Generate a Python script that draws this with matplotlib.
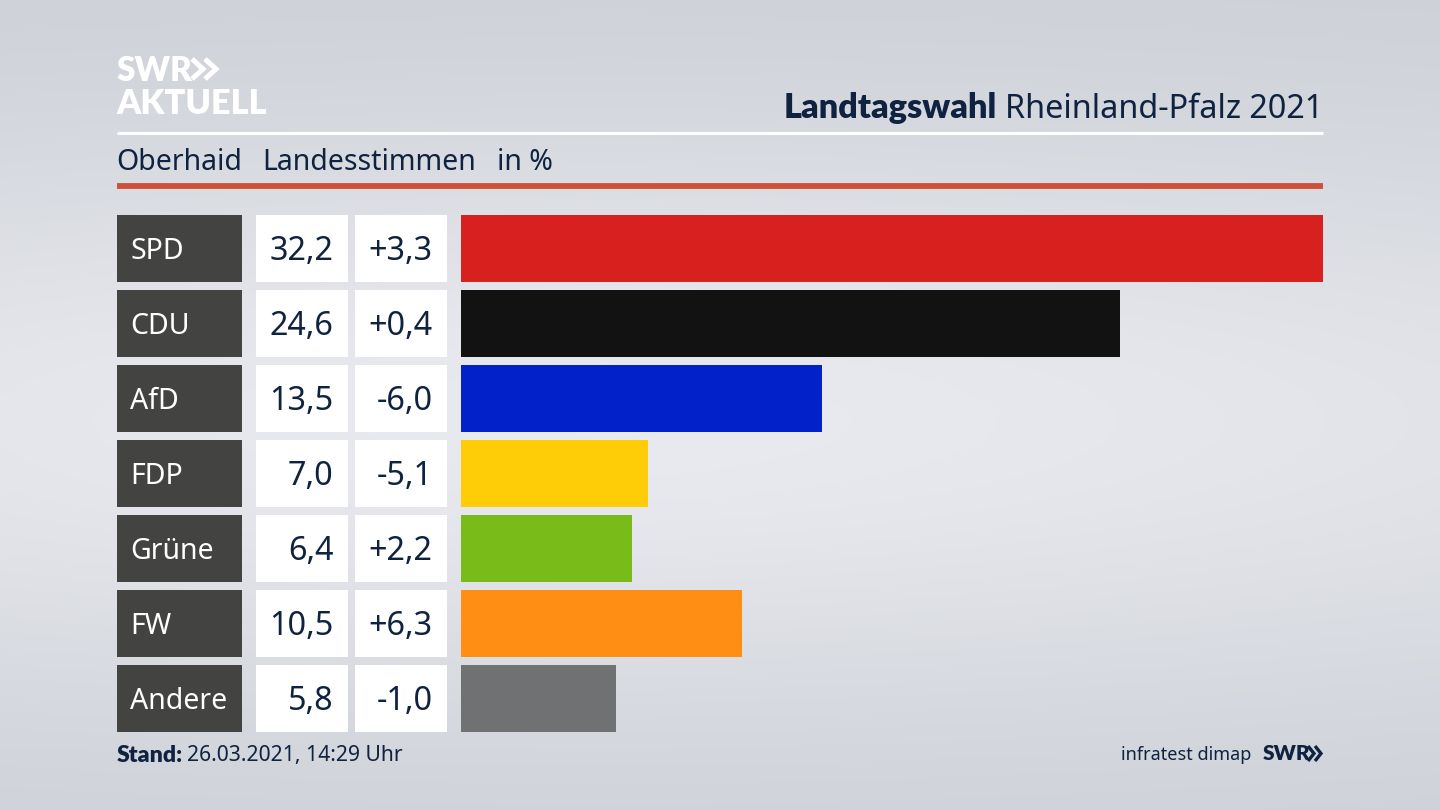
import numpy as np
import matplotlib
matplotlib.use("Agg")
import matplotlib.pyplot as plt
from matplotlib.colors import LinearSegmentedColormap

parties = ["SPD", "CDU", "AfD", "FDP", "Grüne", "FW", "Andere"]
shares = [32.2, 24.6, 13.5, 7.0, 6.4, 10.5, 5.8]
share_labels = ["32,2", "24,6", "13,5", "7,0", "6,4", "10,5", "5,8"]
change_labels = ["+3,3", "+0,4", "-6,0", "-5,1", "+2,2", "+6,3", "-1,0"]
colors = ["#d8201f", "#121212", "#0221c8", "#ffcd07", "#79bc19", "#ff8e14", "#707173"]

NAVY = "#0f2240"
FONT = "Noto Sans"
BOLD = "Lato"
plt.rcParams["font.family"] = [FONT, "DejaVu Sans"]

W, H = 1440, 810
fig = plt.figure(figsize=(W / 100, H / 100), dpi=100)

def axes_px(x0, y0, x1, y1, **kw):
    return fig.add_axes([x0 / W, 1 - y1 / H, (x1 - x0) / W, (y1 - y0) / H], **kw)

# background: pale band through the middle, darker at top and bottom
bg = axes_px(0, 0, W, H)
yy, xx = np.mgrid[0:1:162j, 0:1:288j]
field = np.exp(-((yy - 0.52) / 0.36) ** 2) * (1 - 0.55 * np.abs(xx - 0.42) ** 1.5)
cmap = LinearSegmentedColormap.from_list("bg", ["#ccd0d6", "#e9eaef"])
bg.imshow(field, extent=(0, W, H, 0), aspect="auto", cmap=cmap, vmin=0, vmax=1,
          interpolation="bicubic")
bg.set_xlim(0, W)
bg.set_ylim(H, 0)
bg.axis("off")

# header
bg.text(117, 71, "SWR", color="white", fontsize=24, fontweight="heavy", family=BOLD, va="center", ha="left")
bg.text(116, 104, "AKTUELL", color="white", fontsize=24.7, fontweight="heavy", family=BOLD, va="center", ha="left")
for dx in (0, 13):
    bg.plot([192 + dx, 203 + dx, 192 + dx], [59, 69, 79], color="white", lw=3.6,
            solid_joinstyle="miter", solid_capstyle="butt")

bg.text(1323, 109, "Rheinland-Pfalz 2021", color=NAVY, fontsize=23.3, va="center", ha="right")
bg.text(997, 108, "Landtagswahl", color=NAVY, fontsize=24.7, fontweight="heavy", family=BOLD, va="center", ha="right")
bg.plot([117, 1323], [133, 133], color="white", lw=2.2, solid_capstyle="butt")
bg.plot([117, 1323], [185.5, 185.5], color="#cf5039", lw=4.2, solid_capstyle="butt")
bg.text(116, 162, "Oberhaid", color=NAVY, fontsize=20.5, va="center", ha="left")
bg.text(262, 162, "Landesstimmen", color=NAVY, fontsize=20.5, va="center", ha="left")
bg.text(497, 162, "in %", color=NAVY, fontsize=20.5, va="center", ha="left")

# footer
bg.text(117, 756, "Stand:", color=NAVY, fontsize=16.6, fontweight="heavy", family=BOLD, va="center", ha="left")
bg.text(187, 756, "26.03.2021, 14:29 Uhr", color=NAVY, fontsize=15.2, va="center", ha="left")
bg.text(1251.5, 755, "infratest dimap", color=NAVY, fontsize=13, va="center", ha="right")
bg.text(1263, 754, "SWR", color=NAVY, fontsize=15, fontweight="heavy", family=BOLD, va="center", ha="left")
for dx in (0, 7):
    bg.plot([1308 + dx, 1314 + dx, 1308 + dx], [746, 753.5, 761], color=NAVY, lw=2.4,
            solid_joinstyle="miter", solid_capstyle="butt")

# rows
y = np.arange(len(parties))
BAR_H = 66.2 / 75
top, bottom = 210.9, 735.9

# table cells, x axis in pixels of the figure
tab = axes_px(117, top, 447, bottom)
tab.set_xlim(117, 447)
tab.set_ylim(len(parties) - 0.5, -0.5)
tab.axis("off")
tab.patch.set_alpha(0)
tab.barh(y, 124.5, left=117, height=BAR_H, color="#434341", linewidth=0)
tab.barh(y, 92.6, left=255.6, height=BAR_H, color="white", linewidth=0)
tab.barh(y, 92.6, left=354.6, height=BAR_H, color="white", linewidth=0)
for i, (p, s, c) in enumerate(zip(parties, share_labels, change_labels)):
    tab.text(130.5, i + 0.035, p, color="white", fontsize=20.5, va="center", ha="left")
    tab.text(333.5, i + 0.035, s, color=NAVY, fontsize=23.3, va="center", ha="right")
    tab.text(432.5, i + 0.035, c, color=NAVY, fontsize=23.3, va="center", ha="right")

# bars
ax = axes_px(461, top, 1323, bottom)
ax.set_xlim(0, max(shares))
ax.set_ylim(len(parties) - 0.5, -0.5)
ax.axis("off")
ax.patch.set_alpha(0)
ax.barh(y, shares, height=BAR_H, color=colors, linewidth=0)

fig.savefig("out.png", dpi=100)
